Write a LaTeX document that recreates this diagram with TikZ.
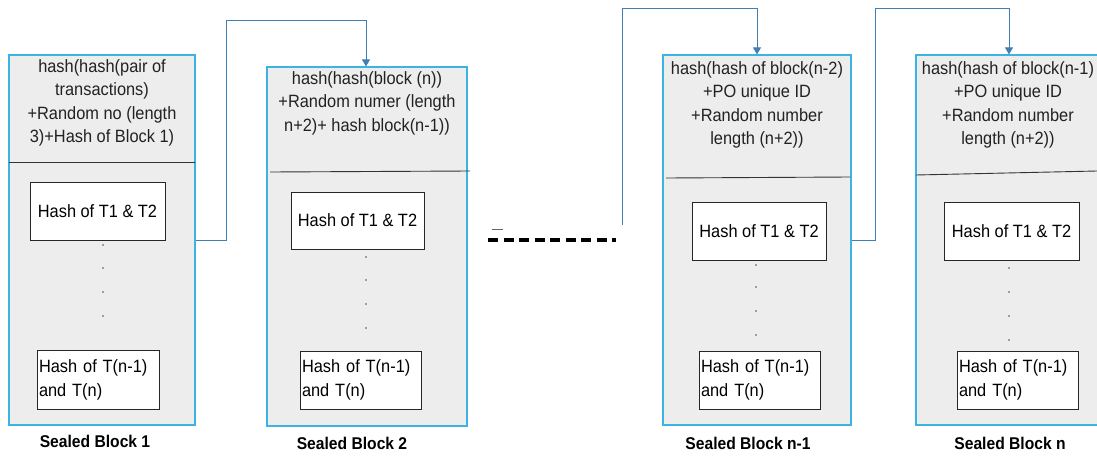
\documentclass[tikz,border=0pt]{standalone}
\usepackage{fontspec}
\setmainfont{Liberation Sans}[FakeStretch=0.92]
\usetikzlibrary{arrows.meta}
\definecolor{blkfill}{HTML}{EDEDED}
\definecolor{blkline}{HTML}{3BB4E5}
\definecolor{conn}{HTML}{3F7FB3}
\definecolor{txt}{HTML}{222222}
\tikzset{
  block/.style={draw=blkline, fill=blkfill, line width=1.2pt, inner sep=0pt},
  hdr/.style={align=center, text=txt, font=\fontsize{17.8}{23.5}\selectfont, inner sep=0pt, anchor=north},
  txbox/.style={draw=black!85, fill=white, line width=0.9pt, inner sep=2pt, text=black, font=\fontsize{17.8}{24}\selectfont},
  divider/.style={draw=black!80, line width=0.9pt},
  link/.style={draw=conn, line width=1pt, -{Triangle[length=7pt,width=8pt]}},
  caption/.style={font=\fontsize{17}{18}\selectfont\bfseries, text=black, inner sep=0pt},
  dot/.style={fill=black!70, draw=none, circle, inner sep=0pt, minimum size=1.6pt}
}
\begin{document}
\begin{tikzpicture}[x=1pt,y=-1pt]
\useasboundingbox (0,0) rectangle (1097,458);

% Block 1
\node[block, minimum width=186, minimum height=370] (b1) at (102,240) {};
\node[hdr] (h1) at (102,59) {hash(hash(pair of\\transactions)\\+Random no (length\\3)+Hash of Block 1)};
\draw[divider] (9,162) -- (195,162);
\node[txbox, minimum width=135, minimum height=58] (b1t1) at (97.5,211) {Hash of T1 \& T2};
\node[txbox, minimum width=122, minimum height=59, text width=118, align=left] (b1t2) at (98,379.5) {Hash of T(n-1)\\and T(n)};
\foreach \y in {245,268,292,316} \node[dot] at (103,\y) {};
\node[caption] (c1) at (95,441) {Sealed Block 1};

% Block 2
\node[block, minimum width=200, minimum height=359] (b2) at (367,246.5) {};
\node[hdr] (h2) at (367,71) {hash(hash(block (n))\\+Random numer (length\\n+2)+ hash block(n-1))};
\draw[divider] (270,172) -- (470,171);
\node[txbox, minimum width=133, minimum height=57] (b2t1) at (357.5,220.5) {Hash of T1 \& T2};
\node[txbox, minimum width=121, minimum height=58, text width=117, align=left] (b2t2) at (360.5,380) {Hash of T(n-1)\\and T(n)};
\foreach \y in {257,280,304,328} \node[dot] at (366,\y) {};
\node[caption] (c2) at (352,443) {Sealed Block 2};

% dashed separator
\draw[black, line width=3.2pt, dash pattern=on 10pt off 5.5pt] (488,240) -- (616,240);
\draw[black!60, line width=0.8pt] (492,229) -- (503,229);

% Block n-1
\node[block, minimum width=188, minimum height=370] (b3) at (757,240) {};
\node[hdr] (h3) at (757,61) {hash(hash of block(n-2)\\+PO unique ID\\+Random number\\length (n+2))};
\draw[divider] (666,178) -- (850,177);
\node[txbox, minimum width=134, minimum height=58] (b3t1) at (759,231) {Hash of T1 \& T2};
\node[txbox, minimum width=121, minimum height=58, text width=117, align=left] (b3t2) at (759.5,380) {Hash of T(n-1)\\and T(n)};
\foreach \y in {265,287,311,335} \node[dot] at (756,\y) {};
\node[caption] (c3) at (748,443) {Sealed Block n-1};

% Block n
\node[block, minimum width=184, minimum height=370] (b4) at (1008,240) {};
\node[hdr] (h4) at (1008,61) {hash(hash of block(n-1)\\+PO unique ID\\+Random number\\length (n+2))};
\draw[divider] (916,175) -- (1097,171);
\node[txbox, minimum width=135, minimum height=58] (b4t1) at (1011.5,231) {Hash of T1 \& T2};
\node[txbox, minimum width=121, minimum height=58, text width=117, align=left] (b4t2) at (1017.5,380) {Hash of T(n-1)\\and T(n)};
\foreach \y in {268,292,316,340} \node[dot] at (1009,\y) {};
\node[caption] (c4) at (1010,443) {Sealed Block n};

% connectors
\coordinate (s3) at (622,225);
\draw[link] (b1.east |- 0,240) -- (226,240) -- (226,20) -- (366,20) -- (b2.north -| 366,0);
\draw[link] (s3) -- (622,8) -- (757,8) -- (b3.north);
\draw[link] (b3.east |- 0,240) -- (875,240) -- (875,8) -- (1009,8) -- (b4.north -| 1009,0);
\end{tikzpicture}
\end{document}
